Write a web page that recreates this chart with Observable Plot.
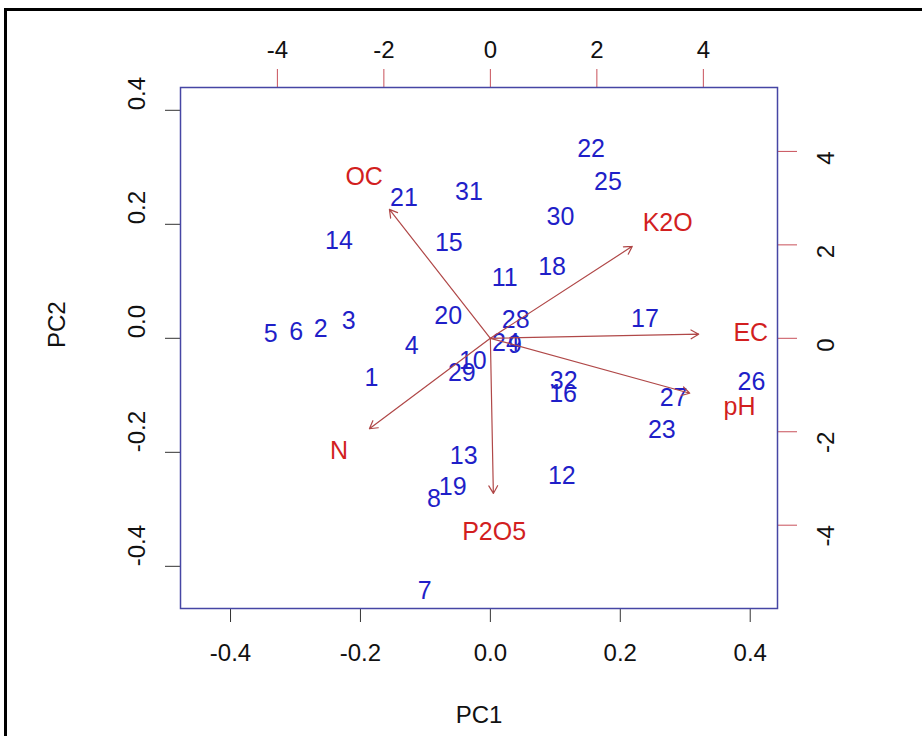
<!DOCTYPE html>
<html>
<head>
<meta charset="utf-8">
<script src="https://cdn.jsdelivr.net/npm/d3@7"></script>
<script src="https://cdn.jsdelivr.net/npm/@observablehq/plot@0.6"></script>
<style>
  html, body { margin: 0; padding: 0; background: #fff; }
  #wrap { position: relative; width: 922px; height: 736px; overflow: hidden; }
  #border { position: absolute; left: 4px; top: 8px; width: 940px; height: 760px; border: 3px solid #000; box-sizing: border-box; }
  #chart { position: absolute; left: 0; top: 0; }
</style>
</head>
<body>
<div id="wrap"><div id="border"></div><div id="chart"></div></div>
<script>
// Observation scores (PC1, PC2)
const obsLabels = ["1","2","3","4","5","6","7","8","9","10","11","12","13","14","15","16",
  "17","18","19","20","21","22","23","24","25","26","27","28","29","30","31","32"];
const obsPC1 = [-0.183,-0.261,-0.218,-0.121,-0.338,-0.299,-0.101,-0.087,0.038,-0.027,0.022,0.110,-0.041,-0.233,-0.064,0.112,
  0.238,0.095,-0.058,-0.065,-0.133,0.155,0.264,0.024,0.181,0.402,0.282,0.039,-0.044,0.108,-0.033,0.113];
const obsPC2 = [-0.069,0.016,0.030,-0.014,0.007,0.011,-0.444,-0.282,-0.012,-0.039,0.105,-0.242,-0.207,0.170,0.168,-0.098,
  0.033,0.125,-0.260,0.039,0.247,0.332,-0.160,-0.009,0.275,-0.077,-0.104,0.032,-0.060,0.212,0.256,-0.075];

// Variable loadings (in top/right axis units)
const varLabels = ["OC","K2O","EC","pH","N","P2O5"];
const varPC1 = [-2.37, 3.33, 4.89, 4.68, -2.84, 0.07];
const varPC2 = [3.45, 2.46, 0.11, -1.47, -2.42, -4.15];

// Axis ticks
const xTicks = [-0.4,-0.2,0.0,0.2,0.4];
const yTicks = [-0.4,-0.2,0.0,0.2,0.4];
const topTicks = [-4,-2,0,2,4];
const rightTicks = [-4,-2,0,2,4];

const ratio = 12.2;      // loading-axis units per score-axis unit
const arrowShrink = 0.8; // arrows drawn to 0.8 of label position

const obs = obsLabels.map((l,i)=>({label:l, x:obsPC1[i], y:obsPC2[i]}));
const vars = varLabels.map((l,i)=>({label:l, x:varPC1[i]/ratio, y:varPC2[i]/ratio}));

const blue = "#1f1fc8", red = "#d21f1f", arrowCol = "#b04848", boxCol = "#4646a4", redTick = "#c8505a";

const chart = Plot.plot({
  width: 922, height: 736,
  marginLeft: 180, marginRight: 145, marginTop: 87, marginBottom: 128,
  x: {domain: [-0.477, 0.442]},
  y: {domain: [-0.474, 0.44]},
  style: {fontFamily: "'Liberation Sans', Arial, sans-serif", fontSize: "24px", background: "transparent", overflow: "visible"},
  marks: [
    Plot.axisX(xTicks, {anchor: "bottom", tickSize: 14, stroke: "#333", tickFormat: () => "", label: null}),
    Plot.axisY(yTicks, {anchor: "left", tickSize: 15, stroke: "#333", tickFormat: () => "", label: null}),
    Plot.axisX(topTicks.map(v => v/ratio), {anchor: "top", tickSize: 19, stroke: redTick, tickFormat: () => "", label: null}),
    Plot.axisY(rightTicks.map(v => v/ratio), {anchor: "right", tickSize: 19, stroke: redTick, tickFormat: () => "", label: null}),
    Plot.text(xTicks, {x: d => d, frameAnchor: "bottom", dy: 52, text: d => d.toFixed(1), fill: "#111", fontSize: 24}),
    Plot.text(yTicks, {y: d => d, frameAnchor: "left", dx: -43, rotate: -90, text: d => d.toFixed(1), fill: "#111", fontSize: 24}),
    Plot.text(topTicks, {x: d => d/ratio, frameAnchor: "top", dy: -47, text: d => String(d), fill: "#111", fontSize: 24}),
    Plot.text(rightTicks, {y: d => d/ratio, frameAnchor: "right", dx: 49, rotate: -90, text: d => String(d), fill: "#111", fontSize: 24}),
    Plot.text(["PC1"], {frameAnchor: "bottom", dy: 114, text: d => d, fill: "#111", fontSize: 24}),
    Plot.text(["PC2"], {frameAnchor: "left", dx: -123, rotate: -90, text: d => d, fill: "#111", fontSize: 24}),
    Plot.frame({stroke: boxCol, strokeWidth: 1.5}),
    Plot.text(obs, {x: "x", y: "y", text: "label", fill: blue, fontSize: 25}),
    Plot.arrow(vars, {x1: 0, y1: 0, x2: d => d.x*arrowShrink, y2: d => d.y*arrowShrink,
      stroke: arrowCol, strokeWidth: 1.2, headLength: 11, headAngle: 60}),
    Plot.text(vars, {x: "x", y: "y", text: "label", fill: red, fontSize: 25})
  ]
});
document.getElementById("chart").appendChild(chart);
</script>
</body>
</html>
